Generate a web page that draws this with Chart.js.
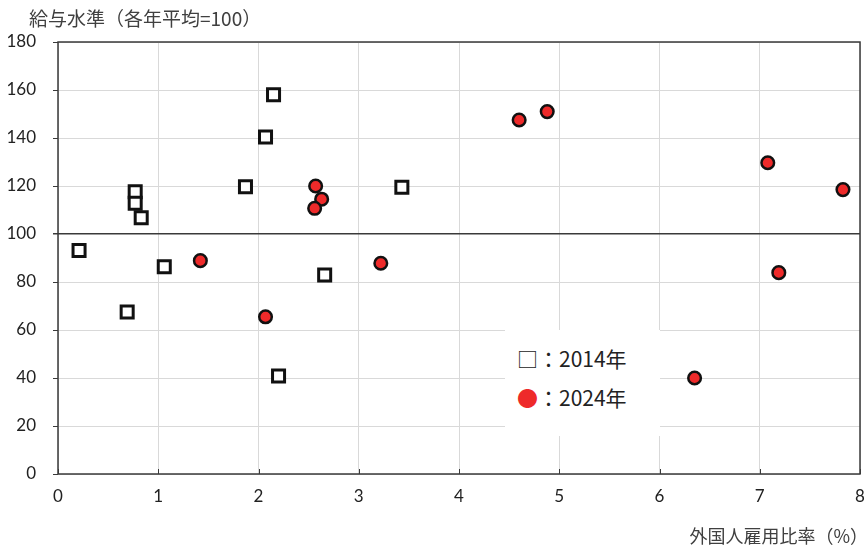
<!DOCTYPE html>
<html>
<head>
<meta charset="utf-8">
<script src="https://cdn.jsdelivr.net/npm/chart.js@4/dist/chart.umd.min.js"></script>
<style>
  body { margin: 0; background: #fff; overflow: hidden; }
  #wrap { position: relative; width: 868px; height: 547px; }
  .lbl { position: absolute; font-family: "Noto Sans CJK JP", sans-serif; color: #404040; white-space: nowrap; }
  #legend { position: absolute; left: 505px; top: 330px; width: 155px; height: 106px; background: #fff;
    font-family: "Noto Sans CJK JP", sans-serif; font-size: 21px; color: #222; }
  #legend div { position: absolute; left: 12px; line-height: 26px; }
</style>
</head>
<body>
<div id="wrap">
  <canvas id="chart" width="868" height="547"></canvas>
  <div class="lbl" style="left:29px; top:4px; font-size:19px;">給与水準（各年平均=100）</div>
  <div class="lbl" style="right:0px; top:522px; font-size:18px;">外国人雇用比率（%）</div>
  <div id="legend">
    <div style="top:15px;">□：2014年</div>
    <div style="top:54px;"><span style="color:#ee2a2a;">●</span>：2024年</div>
  </div>
</div>
<script>
// 外国人雇用比率 (%) と 給与水準
const x2014 = [0.21, 0.69, 0.77, 0.77, 0.83, 1.06, 1.87, 2.07, 2.15, 2.20, 2.66, 3.43];
const y2014 = [93.1, 67.5, 117.6, 112.8, 106.8, 86.4, 119.7, 140.4, 158.0, 40.8, 82.9, 119.5];

const x2024 = [1.42, 2.07, 2.57, 2.63, 2.56, 3.22, 4.60, 4.88, 6.35, 7.08, 7.19, 7.83];
const y2024 = [88.9, 65.5, 120.0, 114.5, 110.7, 87.8, 147.5, 151.0, 40.0, 129.7, 83.9, 118.5];

const xTicks = [0, 1, 2, 3, 4, 5, 6, 7, 8];
const yTicks = [0, 20, 40, 60, 80, 100, 120, 140, 160, 180];

function toPoints(xs, ys) {
  return xs.map((x, i) => ({ x: x, y: ys[i] }));
}

// plot area frame
const frame = {
  id: "frame",
  afterDraw(chart) {
    const a = chart.chartArea;
    const ctx = chart.ctx;
    ctx.save();
    ctx.strokeStyle = "#3a3a3a";
    ctx.lineWidth = 1.5;
    ctx.strokeRect(a.left, a.top, a.right - a.left, a.bottom - a.top);
    // x ticks pointing up
    const xs = chart.scales.x;
    ctx.lineWidth = 1;
    xTicks.forEach((v) => {
      const px = Math.round(xs.getPixelForValue(v)) + 0.5;
      ctx.beginPath();
      ctx.moveTo(px, a.bottom);
      ctx.lineTo(px, a.bottom - 5);
      ctx.stroke();
    });
    ctx.restore();
  },
};

const ctx = document.getElementById("chart").getContext("2d");
const chart = new Chart(ctx, {
  type: "scatter",
  data: {
    datasets: [
      {
        label: "2024年",
        data: toPoints(x2024, y2024),
        pointStyle: "circle",
        pointRadius: 6.3,
        pointBackgroundColor: "#ee2a2a",
        pointBorderColor: "#111",
        pointBorderWidth: 2.5,
      },
      {
        label: "2014年",
        data: toPoints(x2014, y2014),
        pointStyle: "rect",
        pointRadius: 8.5,
        pointBackgroundColor: "#fff",
        pointBorderColor: "#111",
        pointBorderWidth: 3,
      },
    ],
  },
  options: {
    responsive: false,
    animation: false,
    layout: { autoPadding: false, padding: { top: 42, right: 8, left: 0, bottom: 0 } },
    plugins: { legend: { display: false }, tooltip: { enabled: false } },
    scales: {
      x: {
        type: "linear",
        min: 0,
        max: 8,
        afterBuildTicks: (s) => { s.ticks = xTicks.map((v) => ({ value: v })); },
        afterFit: (s) => { s.height = 73; s.paddingRight = 0; s.paddingLeft = 0; },
        grid: { color: "#d9d9d9", lineWidth: 1, drawTicks: false },
        border: { display: false },
        ticks: { padding: 12, color: "#222", font: { family: "Lato", size: 17 } },
      },
      y: {
        type: "linear",
        min: 0,
        max: 180,
        afterBuildTicks: (s) => { s.ticks = yTicks.map((v) => ({ value: v })); },
        afterFit: (s) => { s.width = 58; s.paddingTop = 0; s.paddingBottom = 0; },
        grid: {
          color: (c) => (c.tick && c.tick.value === 100 ? "#3a3a3a" : "#d9d9d9"),
          lineWidth: (c) => (c.tick && c.tick.value === 100 ? 1.5 : 1),
          tickColor: "#3a3a3a",
          tickLength: 5,
        },
        border: { display: false },
        ticks: { padding: 17, color: "#222", font: { family: "Lato", size: 17 } },
      },
    },
  },
  plugins: [frame],
});
</script>
</body>
</html>
